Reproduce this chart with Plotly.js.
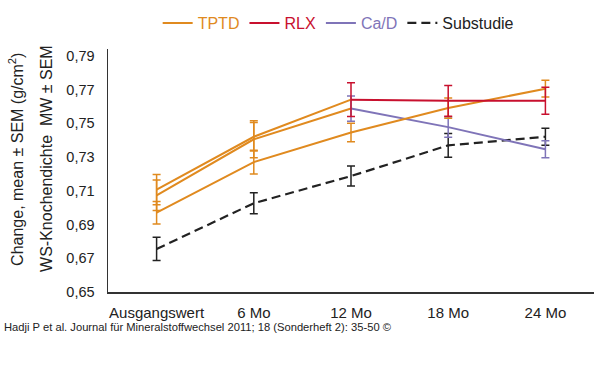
<!DOCTYPE html>
<html>
<head>
<meta charset="utf-8">
<script src="https://cdn.plot.ly/plotly-3.0.1.min.js"></script>
<style>html,body{margin:0;padding:0;background:#fff;}#chart{width:600px;height:381px;}</style>
</head>
<body>
<div id="chart"></div>
<script>
const categories = ['Ausgangswert', '6 Mo', '12 Mo', '18 Mo', '24 Mo'];
const yTicks = [0.65, 0.67, 0.69, 0.71, 0.73, 0.75, 0.77, 0.79];
const yTickLabels = ['0,65', '0,67', '0,69', '0,71', '0,73', '0,75', '0,77', '0,79'];

const tptd = [0.697, 0.727, 0.7445, 0.759, 0.7705];
const tptdSem = [0.0067, 0.007, 0.0055, 0.006, 0.005];
const rlx = [0.7107, 0.742, 0.764, 0.7633, 0.7633];
const rlxSem = [0.009, 0.0085, 0.010, 0.0091, 0.008];
const cad = [0.7073, 0.7405, 0.7587, 0.7477, 0.7346];
const cadSem = [0.009, 0.011, 0.0075, 0.006, 0.005];
const sub = [0.6755, 0.7026, 0.7187, 0.7369, 0.742];
const subSem = [0.0069, 0.0062, 0.0059, 0.0071, 0.005];

const ORANGE = '#E08A1F', RED = '#C8102E', PURPLE = '#7F74B8', BLACK = '#222222';
const FONT = 'Arial, "Liberation Sans", sans-serif';

function err(arr, color) {
  return {type: 'data', array: arr, visible: true, color: color, thickness: 1.5, width: 4};
}

const traces = [];
// Substudie
traces.push({x: categories, y: sub, mode: 'lines', name: 'Substudie', legendrank: 4,
  line: {color: BLACK, width: 2.2, dash: '9px,5px'}, error_y: err(subSem, BLACK)});
// Ca/D: orange up to 12 Mo, purple afterwards
traces.push({x: categories.slice(0, 3), y: cad.slice(0, 3), mode: 'lines', showlegend: false,
  line: {color: ORANGE, width: 2}, hoverinfo: 'skip'});
traces.push({x: categories.slice(0, 2), y: cad.slice(0, 2), mode: 'markers', showlegend: false,
  marker: {size: 1, opacity: 0}, error_y: err(cadSem.slice(0, 2), ORANGE)});
traces.push({x: categories.slice(2), y: cad.slice(2), mode: 'lines', name: '<span style="color:' + PURPLE + '">Ca/D</span>', legendrank: 3,
  line: {color: PURPLE, width: 2}, error_y: err(cadSem.slice(2), PURPLE)});
// TPTD
traces.push({x: categories, y: tptd, mode: 'lines', name: '<span style="color:' + ORANGE + '">TPTD</span>', legendrank: 1,
  line: {color: ORANGE, width: 2}, error_y: err(tptdSem, ORANGE)});
// RLX: orange up to 12 Mo, red afterwards
traces.push({x: categories.slice(0, 3), y: rlx.slice(0, 3), mode: 'lines', showlegend: false,
  line: {color: ORANGE, width: 2}, hoverinfo: 'skip'});
traces.push({x: categories.slice(0, 2), y: rlx.slice(0, 2), mode: 'markers', showlegend: false,
  marker: {size: 1, opacity: 0}, error_y: err(rlxSem.slice(0, 2), ORANGE)});
traces.push({x: categories.slice(2), y: rlx.slice(2), mode: 'lines', name: '<span style="color:' + RED + '">RLX</span>', legendrank: 2,
  line: {color: RED, width: 2}, error_y: err(rlxSem.slice(2), RED)});

const layout = {
  width: 600, height: 381,
  margin: {l: 108, r: 6, t: 40, b: 89},
  paper_bgcolor: '#fff', plot_bgcolor: '#fff',
  font: {family: FONT, color: BLACK, size: 15},
  showlegend: true,
  legend: {orientation: 'h', x: 0.845, xanchor: 'right', y: 1.107, yanchor: 'middle',
    font: {size: 16, family: FONT, color: BLACK}, bgcolor: 'rgba(0,0,0,0)', itemwidth: 30, traceorder: 'normal'},
  xaxis: {type: 'category', categoryorder: 'array', categoryarray: categories, range: [-0.5, 4.5],
    showline: true, linecolor: '#333', linewidth: 1.5, showgrid: false, zeroline: false,
    ticks: 'outside', ticklen: 6, tickcolor: 'rgba(0,0,0,0)', tickfont: {size: 15, family: FONT, color: BLACK}},
  yaxis: {range: [0.65, 0.794], tickvals: yTicks, ticktext: yTickLabels,
    showline: true, linecolor: '#333', linewidth: 1.5, showgrid: false, zeroline: false,
    ticks: 'outside', ticklen: 9, tickcolor: 'rgba(0,0,0,0)', tickfont: {size: 14.5, family: FONT, color: BLACK}},
  annotations: [
    {text: 'Change, mean ± SEM (g/cm<sup>2</sup>)', textangle: -90, xref: 'paper', yref: 'paper',
      x: (16 - 108) / 486, y: (292 - 155) / 252, xanchor: 'center', yanchor: 'middle', showarrow: false,
      font: {size: 16, family: FONT, color: BLACK}},
    {text: 'WS-Knochendichte\u00a0\u00a0MW ± SEM', textangle: -90, xref: 'paper', yref: 'paper',
      x: (47 - 108) / 486, y: (292 - 154) / 252, xanchor: 'center', yanchor: 'middle', showarrow: false,
      font: {size: 16, family: FONT, color: BLACK}},
    {text: 'Hadji P et al. Journal für Mineralstoffwechsel 2011; 18 (Sonderheft 2): 35-50 ©', xref: 'paper', yref: 'paper',
      x: (2 - 108) / 486, y: (292 - 328) / 252, xanchor: 'left', yanchor: 'middle', showarrow: false,
      font: {size: 11.2, family: FONT, color: BLACK}}
  ]
};

Plotly.newPlot('chart', traces, layout, {staticPlot: true, displayModeBar: false});
</script>
</body>
</html>
